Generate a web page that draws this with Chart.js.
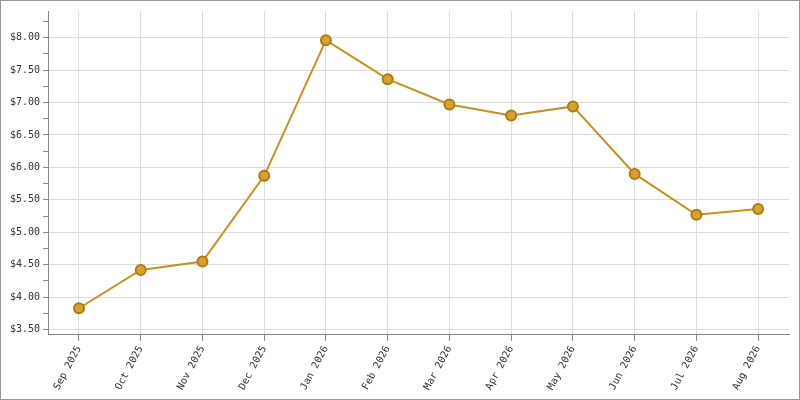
<!DOCTYPE html><html><head><script src="https://cdn.jsdelivr.net/npm/chart.js"></script>
<style>body{margin:0}#w{width:798px;height:398px;border:1px solid #999;background:#fff}</style></head><body>
<div id="w"><canvas id="c"></canvas></div>
<script>
const labels=["Sep 2025","Oct 2025","Nov 2025","Dec 2025","Jan 2026","Feb 2026","Mar 2026","Apr 2026","May 2026","Jun 2026","Jul 2026","Aug 2026"];
const values=[3.83,4.42,4.55,5.87,7.96,7.36,6.97,6.80,6.94,5.90,5.27,5.36];
new Chart(document.getElementById('c'),{type:'line',data:{labels,datasets:[{data:values,borderColor:'#c8901e',borderWidth:2,backgroundColor:'#d9a030',pointBorderColor:'#b07a10',pointRadius:5,pointHoverRadius:5,tension:0}]},
options:{responsive:true,maintainAspectRatio:false,animation:false,layout:{padding:{top:10,right:10,left:6,bottom:4}},
plugins:{legend:{display:false},tooltip:{enabled:false}},
scales:{x:{offset:true,grid:{color:'#ddd',offset:false,tickColor:'#888',tickLength:6},border:{color:'#888'},ticks:{maxRotation:62,minRotation:62,color:'#333',font:{family:'DejaVu Sans Mono',size:10}}},
y:{min:3.42,max:8.41,afterBuildTicks:a=>{const t=[];for(let v=3.5;v<=8.41;v+=0.25)t.push({value:Math.round(v*100)/100});a.ticks=t;},grid:{color:c=>(Math.round(c.tick.value*100)%50===0)?'#dcdcdc':'rgba(0,0,0,0)',tickColor:'#888',tickLength:5},border:{color:'#888'},ticks:{color:'#333',font:{family:'DejaVu Sans Mono',size:10},callback:v=>(Math.round(v*100)%50===0)?'$'+v.toFixed(2):''}}}}});
</script></body></html>
